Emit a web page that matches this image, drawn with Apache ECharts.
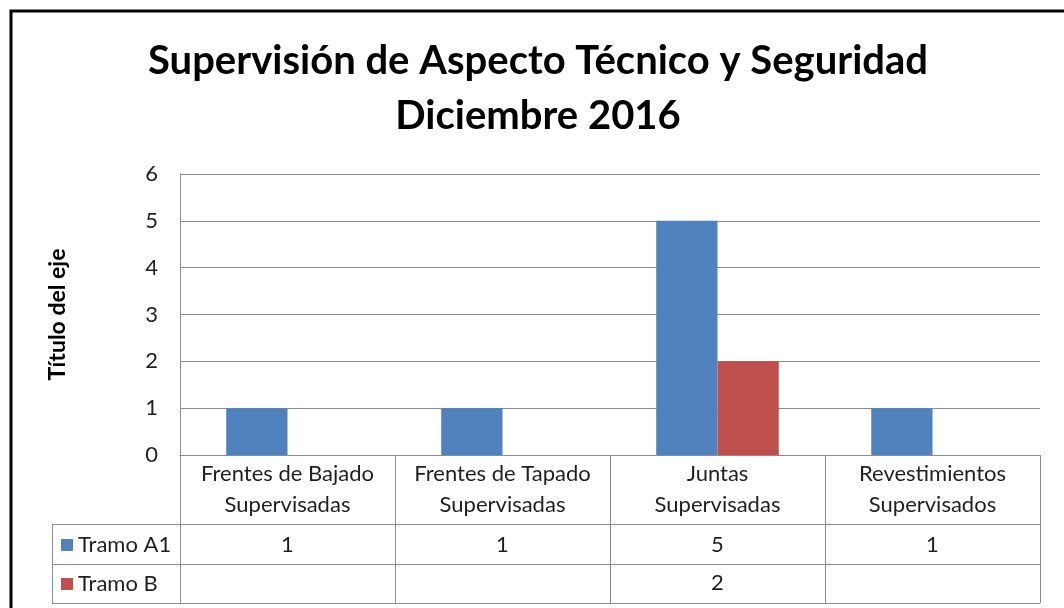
<!DOCTYPE html>
<html>
<head>
<meta charset="utf-8">
<script src="https://cdn.jsdelivr.net/npm/echarts@6/dist/echarts.min.js"></script>
<style>html,body{margin:0;padding:0;background:#fff;}#c{width:1064px;height:608px;}</style>
</head>
<body>
<div id="c"></div>
<script>
const categories = ['Frentes de Bajado\nSupervisadas', 'Frentes de Tapado\nSupervisadas', 'Juntas\nSupervisadas', 'Revestimientos\nSupervisados'];
const tramoA1 = [1, 1, 5, 1];
const tramoB = [null, null, 2, null];
const seriesNames = ['Tramo A1', 'Tramo B'];
const yTicks = { min: 0, max: 6, interval: 1 };

const FONT = 'Lato';
const TXT = '#1f1f1f';
const LINE = '#8c8c8c';
const FS = 22;

const chart = echarts.init(document.getElementById('c'), null, { renderer: 'canvas' });

function rowLabel(arr) {
  return function (v, i) { const x = arr[i]; return (x === null || x === undefined) ? '' : String(x); };
}

chart.setOption({
  animation: false,
  backgroundColor: '#fff',
  title: {
    text: 'Supervisión de Aspecto Técnico y Seguridad\nDiciembre 2016',
    left: 538,
    textAlign: 'center',
    top: 34,
    padding: 0,
    textStyle: { fontFamily: FONT, fontWeight: 'bold', fontSize: 40, lineHeight: 55, color: '#000' }
  },
  legend: {
    orient: 'vertical',
    left: 56,
    top: 529,
    itemWidth: 12,
    itemHeight: 12,
    itemGap: 17,
    icon: 'rect',
    data: seriesNames,
    textStyle: { fontFamily: FONT, fontSize: FS, lineHeight: 22, color: TXT, padding: [0, 0, 0, 0] },
    selectedMode: false
  },
  grid: { left: 180, right: 24, top: 174, bottom: 153, containLabel: false },
  xAxis: [
    {
      type: 'category', data: categories, position: 'bottom',
      axisLine: { show: true, lineStyle: { color: LINE, width: 1 } },
      axisTick: { show: true, length: 148, lineStyle: { color: LINE, width: 1 } },
      axisLabel: { margin: 34, verticalAlign: 'middle', lineHeight: 31, fontFamily: FONT, fontSize: FS, color: TXT, interval: 0 }
    },
    {
      type: 'category', data: categories, position: 'bottom',
      axisLine: { show: false }, axisTick: { show: false },
      axisLabel: { margin: 90, verticalAlign: 'middle', fontFamily: FONT, fontSize: FS, color: TXT, interval: 0, formatter: rowLabel(tramoA1) }
    },
    {
      type: 'category', data: categories, position: 'bottom',
      axisLine: { show: false }, axisTick: { show: false },
      axisLabel: { margin: 128, verticalAlign: 'middle', fontFamily: FONT, fontSize: FS, color: TXT, interval: 0, formatter: rowLabel(tramoB) }
    }
  ],
  yAxis: {
    type: 'value', min: yTicks.min, max: yTicks.max, interval: yTicks.interval,
    name: 'Título del eje', nameLocation: 'middle', nameRotate: 90, nameGap: 111,
    nameTextStyle: { fontFamily: FONT, fontWeight: 'bold', fontSize: 23, color: '#000' },
    axisLine: { show: true, lineStyle: { color: LINE, width: 1 } },
    axisTick: { show: false },
    axisLabel: { margin: 22, fontFamily: FONT, fontSize: FS, color: TXT },
    splitLine: { show: true, lineStyle: { color: LINE, width: 1 } }
  },
  series: [
    { name: seriesNames[0], type: 'bar', data: tramoA1, barGap: '0%', barCategoryGap: '43%', itemStyle: { color: '#4F81BD' } },
    { name: seriesNames[1], type: 'bar', data: tramoB, barGap: '0%', barCategoryGap: '43%', itemStyle: { color: '#C0504D' } }
  ],
  graphic: [
    { type: 'rect', silent: true, z: 100, shape: { x: 11, y: 11, width: 1080, height: 640 }, style: { fill: 'none', stroke: '#000', lineWidth: 3 } },
    { type: 'line', silent: true, shape: { x1: 52, y1: 524.5, x2: 1040, y2: 524.5 }, style: { stroke: LINE, lineWidth: 1 } },
    { type: 'line', silent: true, shape: { x1: 52, y1: 564.5, x2: 1040, y2: 564.5 }, style: { stroke: LINE, lineWidth: 1 } },
    { type: 'line', silent: true, shape: { x1: 52, y1: 603.5, x2: 1040, y2: 603.5 }, style: { stroke: LINE, lineWidth: 1 } },
    { type: 'line', silent: true, shape: { x1: 52.5, y1: 524, x2: 52.5, y2: 604 }, style: { stroke: LINE, lineWidth: 1 } }
  ]
});
</script>
</body>
</html>
